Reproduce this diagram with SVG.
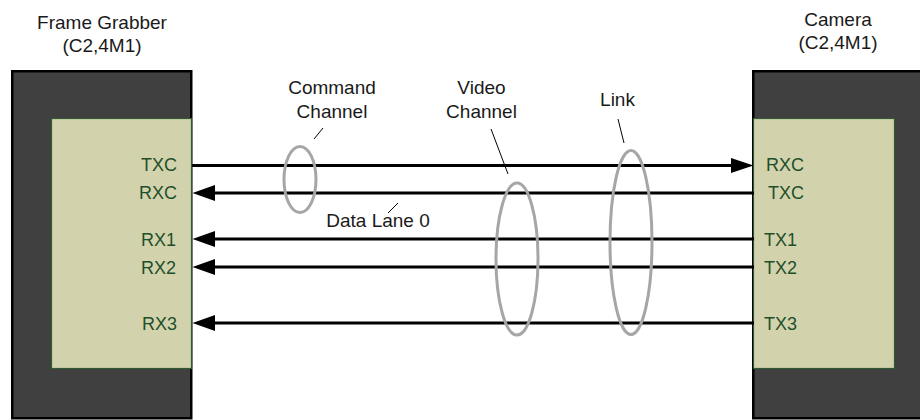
<svg xmlns="http://www.w3.org/2000/svg" width="920" height="420" viewBox="0 0 920 420">
<style>
.t{font-family:"Liberation Sans",Arial,sans-serif;font-size:19px;fill:#1a1a1a}
.p{font-family:"Liberation Sans",Arial,sans-serif;font-size:18px;fill:#1f4f2a}
.dark{fill:#404040;stroke:#000;stroke-width:2.5}
.board{fill:#d2d3ad;stroke:#2f5a32;stroke-width:1.2}
.w{stroke:#000;stroke-width:3;fill:none}
.ah{fill:#000}
.ring{fill:none;stroke:#a6a6a6;stroke-width:3}
.lead{stroke:#000;stroke-width:1;fill:none}
</style>
<g id="frame-grabber">
<text class="t" x="102" y="29" text-anchor="middle">Frame Grabber</text>
<text class="t" x="102" y="52" text-anchor="middle">(C2,4M1)</text>
<rect class="dark" x="12.25" y="71.25" width="179" height="347"/>
<rect class="board" x="51.5" y="118.5" width="140" height="250"/>
<text class="p" x="177" y="171" text-anchor="end">TXC</text>
<text class="p" x="177" y="199" text-anchor="end">RXC</text>
<text class="p" x="176" y="246" text-anchor="end">RX1</text>
<text class="p" x="176" y="274" text-anchor="end">RX2</text>
<text class="p" x="177" y="330" text-anchor="end">RX3</text>
</g>
<g id="camera">
<text class="t" x="838" y="26" text-anchor="middle">Camera</text>
<text class="t" x="838" y="49" text-anchor="middle">(C2,4M1)</text>
<rect class="dark" x="753.25" y="71.25" width="180" height="347"/>
<rect class="board" x="753.5" y="118.5" width="141" height="250"/>
<text class="p" x="766" y="171">RXC</text>
<text class="p" x="768" y="199">TXC</text>
<text class="p" x="764" y="246">TX1</text>
<text class="p" x="764" y="274">TX2</text>
<text class="p" x="764" y="330">TX3</text>
</g>
<g id="connectors">
<line class="w" x1="192" y1="165.5" x2="735" y2="165.5"/>
<polygon class="ah" points="753.5,165.5 731,158 731,173"/>
<line class="w" x1="210" y1="193" x2="754" y2="193"/>
<polygon class="ah" points="192.5,193 215,185 215,201"/>
<line class="w" x1="210" y1="239" x2="754" y2="239"/>
<polygon class="ah" points="192.5,239 215,231 215,247"/>
<line class="w" x1="210" y1="267" x2="754" y2="267"/>
<polygon class="ah" points="192.5,267 215,259 215,275"/>
<line class="w" x1="210" y1="323" x2="754" y2="323"/>
<polygon class="ah" points="192.5,323 215,315 215,331"/>
</g>
<g id="command-channel">
<ellipse class="ring" cx="300" cy="179.5" rx="16" ry="33"/>
<line class="lead" x1="314" y1="139" x2="323" y2="128"/>
<text class="t" x="332" y="94" text-anchor="middle">Command</text>
<text class="t" x="332" y="118" text-anchor="middle">Channel</text>
</g>
<g id="video-channel">
<ellipse class="ring" cx="517" cy="259" rx="21" ry="76"/>
<line class="lead" x1="491" y1="129" x2="508" y2="174"/>
<text class="t" x="481.5" y="94" text-anchor="middle">Video</text>
<text class="t" x="481.5" y="118" text-anchor="middle">Channel</text>
</g>
<g id="link">
<ellipse class="ring" cx="631" cy="242.5" rx="21" ry="92"/>
<line class="lead" x1="618" y1="119" x2="624" y2="143"/>
<text class="t" x="617.5" y="106" text-anchor="middle">Link</text>
</g>
<g id="data-lane-0">
<line class="lead" x1="388" y1="213" x2="398" y2="203"/>
<text class="t" x="378" y="227" text-anchor="middle">Data Lane 0</text>
</g>
</svg>
